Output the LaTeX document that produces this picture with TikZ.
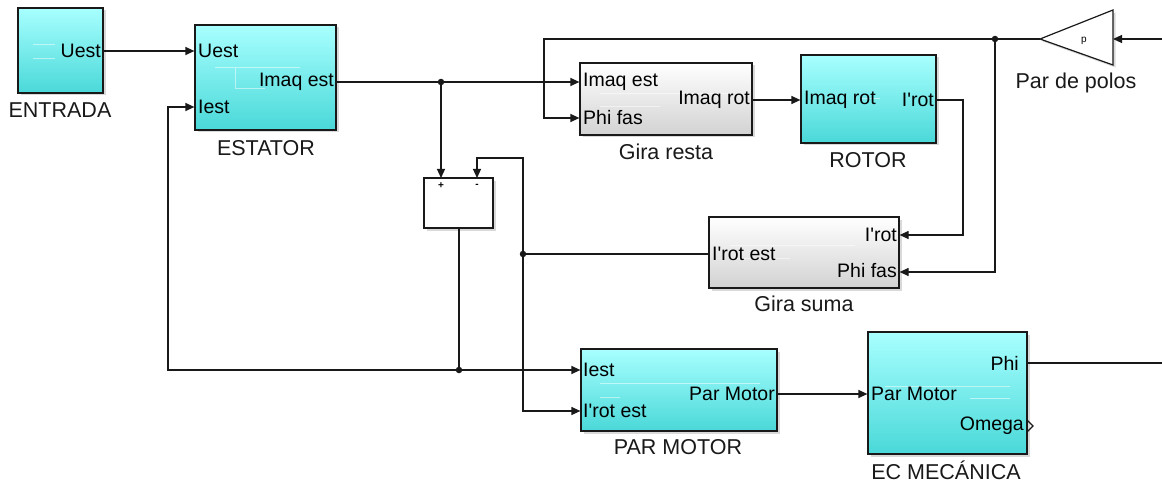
\documentclass[tikz,border=0pt]{standalone}
\usepackage{fontspec}
\setmainfont{Liberation Sans}
\usetikzlibrary{arrows.meta,shadows,calc}
\definecolor{cyanT}{RGB}{168,255,255}
\definecolor{cyanB}{RGB}{74,216,216}
\definecolor{grayB}{RGB}{210,210,210}
\definecolor{ln}{RGB}{25,25,25}
\newcommand\apo{\textquotesingle}
\begin{document}
\begin{tikzpicture}[x=1pt,y=-1pt,
  blk/.style={draw=ln,line width=1.2pt,inner sep=0pt,
    drop shadow={shadow xshift=2.5pt,shadow yshift=-2.5pt,opacity=.3}},
  cyanblk/.style={blk,top color=cyanT,bottom color=cyanB},
  grayblk/.style={blk,top color=white,bottom color=grayB},
  whiteblk/.style={blk,fill=white},
  port/.style={font=\fontsize{19.5}{21}\selectfont,inner sep=0pt,text=black},
  lbl/.style={font=\fontsize{21.5}{23}\selectfont,inner sep=0pt,text=black!90},
  sig/.style={draw=ln,line width=1.2pt},
  arr/.style={sig,-{Triangle[length=9pt,width=8pt]}},
  jdot/.style={circle,fill=ln,inner sep=0pt,minimum size=6.5pt},
  faint/.style={draw=white,opacity=.5,line width=0.8pt}
]
\useasboundingbox (0,0) rectangle (1162,484);

% ---------- blocks ----------
\node[cyanblk,minimum width=85pt,minimum height=85pt] (entrada) at (60.5,50.5) {};
\node[cyanblk,minimum width=141pt,minimum height=105pt] (estator) at (265.5,77.5) {};
\node[grayblk,minimum width=172pt,minimum height=72pt] (giraresta) at (666,99) {};
\node[cyanblk,minimum width=135pt,minimum height=88pt] (rotor) at (868.5,99) {};
\node[whiteblk,minimum width=69pt,minimum height=50pt] (sum) at (458.5,203) {};
\node[grayblk,minimum width=190pt,minimum height=71pt] (girasuma) at (804,252.5) {};
\node[cyanblk,minimum width=196pt,minimum height=82pt] (parmotor) at (679,390) {};
\node[cyanblk,minimum width=159pt,minimum height=122pt] (ecmec) at (947.5,393) {};

% gain triangle
\coordinate (gtip) at (1040,39);
\coordinate (gin) at (1113,39);
\draw[line width=1.2pt,draw=ln,fill=white,
  drop shadow={shadow xshift=2.5pt,shadow yshift=-2.5pt,opacity=.3}]
  (1113,10) -- (gtip) -- (1113,65) -- cycle;
\node[font=\fontsize{10}{11}\selectfont,inner sep=0pt] (pgain) at (1084,41) {p};

% faint internal previews
\draw[faint] (33,44) -- (55,44) (33,58) -- (55,58);
\draw[faint] (215,67) -- (300,67) (235,67) |- (265,88);
\draw[faint] (600,93) -- (730,93) (600,106) -- (660,106);
\draw[faint] (860,98) -- (880,98);
\draw[faint] (730,245) -- (855,245) (730,258) -- (790,258);
\draw[faint] (600,383) -- (760,383) (600,397) -- (620,397);
\draw[faint] (885,386) -- (1010,386) (970,398) -- (1010,398);

% ---------- port labels ----------
\node[port,anchor=east] at (101,51) {Uest};
\node[port,anchor=west] at (198,51) {Uest};
\node[port,anchor=west] at (198,107) {Iest};
\node[port,anchor=east] at (334,82) {Imaq est};
\node[port,anchor=west] at (583,82) {Imaq est};
\node[port,anchor=west] at (583,118) {Phi fas};
\node[port,anchor=east] at (750,100) {Imaq rot};
\node[port,anchor=west] at (804,100) {Imaq rot};
\node[port,anchor=east] at (934,100) {I\apo rot};
\node[port,anchor=east] at (897,235) {I\apo rot};
\node[port,anchor=east] at (897,271) {Phi fas};
\node[port,anchor=west] at (712,254) {I\apo rot est};
\node[port,anchor=west] at (583,370) {Iest};
\node[port,anchor=west] at (583,411) {I\apo rot est};
\node[port,anchor=east] at (775,394) {Par Motor};
\node[port,anchor=west] at (871,394) {Par Motor};
\node[port,anchor=east] at (1019,363) {Phi};
\node[port,anchor=east] at (1024,426) {Omega};
\draw[ln,line width=1.3pt] (1027,420) -- (1033,426) -- (1027,432);
\node[font=\fontsize{10}{11}\selectfont\bfseries,inner sep=0pt] at (441,186) {+};
\node[font=\fontsize{10}{11}\selectfont\bfseries,inner sep=0pt] at (477,186) {-};

% ---------- block names ----------
\node[lbl] at (60,110) {ENTRADA};
\node[lbl] at (266,148) {ESTATOR};
\node[lbl] at (666,152) {Gira resta};
\node[lbl] at (868,160) {ROTOR};
\node[lbl] at (804,304) {Gira suma};
\node[lbl] at (678,447) {PAR MOTOR};
\node[lbl] at (946,470) {EC MECÁNICA};
\node[lbl] at (1076,83) {Par de polos};

% ---------- junctions ----------
\node[jdot] (j1) at (441,82) {};
\node[jdot] (j2) at (459,370) {};
\node[jdot] (j3) at (523,254) {};
\node[jdot] (j4) at (995,39) {};

% ---------- connectors ----------
\draw[arr] (entrada.east |- 0,51) -- (estator.west |- 0,51);
% Imaq est
\draw[sig] (estator.east |- 0,82) -- (j1);
\draw[arr] (j1) -- (giraresta.west |- 0,82);
\draw[arr] (j1) -- (441,178);
% sum output -> Iest
\draw[sig] (sum.south -| 459,0) -- (j2);
\draw[arr] (j2) -- (168,370) -- (168,107) -- (estator.west |- 0,107);
\draw[arr] (j2) -- (parmotor.west |- 0,370);
% Gira suma output
\draw[sig] (girasuma.west |- 0,254) -- (j3);
\draw[arr] (j3) -- (523,158) -- (477,158) -- (477,178);
\draw[arr] (j3) -- (523,411) -- (parmotor.west |- 0,411);
% Gira resta -> rotor
\draw[arr] (giraresta.east |- 0,100) -- (rotor.west |- 0,100);
% rotor -> gira suma
\draw[arr] (rotor.east |- 0,100) -- (963,100) -- (963,235) -- (girasuma.east |- 0,235);
% gain output
\draw[sig] (gtip) -- (j4);
\draw[arr] (j4) -- (544,39) -- (544,118) -- (giraresta.west |- 0,118);
\draw[arr] (j4) -- (995,272) -- (girasuma.east |- 0,272);
% gain input (from outside)
\coordinate (gsrc) at (1162,39);
\draw[arr] (gsrc) -- (gin);
% par motor -> ec mecanica
\draw[arr] (parmotor.east |- 0,394) -- (ecmec.west |- 0,394);
% phi output
\coordinate (phiout) at (1162,363);
\draw[sig] (ecmec.east |- 0,363) -- (phiout);
\end{tikzpicture}
\end{document}
